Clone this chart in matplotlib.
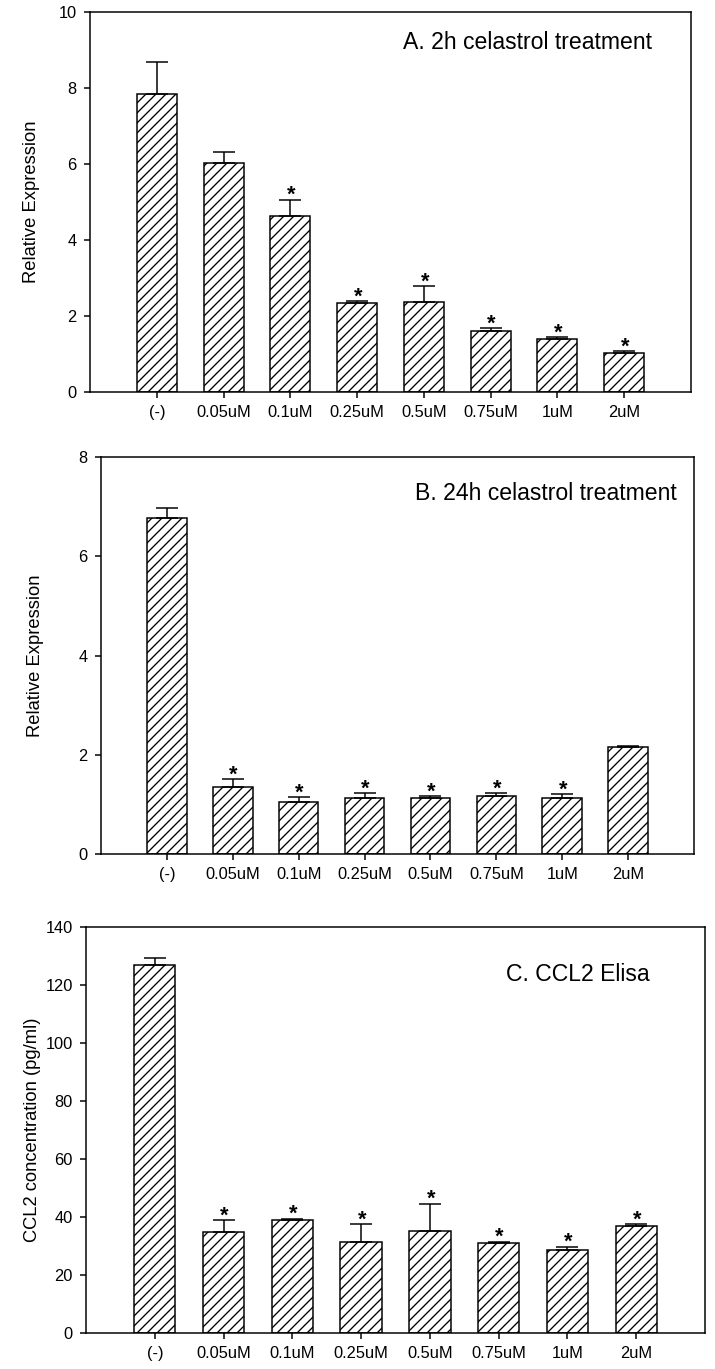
import matplotlib
matplotlib.use('Agg')
import matplotlib.pyplot as plt
import numpy as np

plt.rcParams['font.family'] = ['Liberation Sans', 'DejaVu Sans']
plt.rcParams['hatch.linewidth'] = 0.8
plt.rcParams['hatch.color'] = 'black'

labels = ['(-)', '0.05uM', '0.1uM', '0.25uM', '0.5uM', '0.75uM', '1uM', '2uM']

# A. 2h treatment
a_mean = [7.83, 6.02, 4.63, 2.33, 2.37, 1.60, 1.40, 1.03]
a_err = [0.86, 0.29, 0.43, 0.06, 0.41, 0.08, 0.05, 0.05]
a_star = [0, 0, 1, 1, 1, 1, 1, 1]

# B. 24h treatment
b_mean = [6.77, 1.35, 1.04, 1.13, 1.13, 1.17, 1.12, 2.16]
b_err = [0.20, 0.16, 0.11, 0.09, 0.04, 0.06, 0.08, 0.02]
b_star = [0, 1, 1, 1, 1, 1, 1, 0]

# C. CCL2 Elisa
c_mean = [126.8, 34.8, 38.9, 31.5, 35.1, 30.9, 28.7, 36.9]
c_err = [2.4, 4.1, 0.5, 6.0, 9.5, 0.6, 1.1, 0.7]
c_star = [0, 1, 1, 1, 1, 1, 1, 1]

DPI = 120
W, H = 715, 1369
fig = plt.figure(figsize=(W / DPI, H / DPI), dpi=DPI)


def box(l, r, t, b):
    return [l / W, 1 - b / H, (r - l) / W, (b - t) / H]


def panel(rect, mean, err, star, ymax, ystep, ylabel, title, tpos, labx):
    ax = fig.add_axes(rect)
    x = np.arange(len(labels))
    ax.bar(x, mean, width=0.6, color='white', edgecolor='black',
           linewidth=0.9, hatch='////', zorder=2)
    ax.errorbar(x, mean, yerr=[np.zeros(len(err)), err], fmt='none',
                ecolor='black', elinewidth=0.9, capsize=6.5, capthick=0.9,
                zorder=3)
    for i in range(len(x)):
        if star[i]:
            ax.annotate('*', (x[i], mean[i] + err[i]), xytext=(0.5, 2.5),
                        textcoords='offset points', ha='center', va='center',
                        fontsize=13, fontweight='bold')
    ax.set_xlim(-1, 8)
    ax.set_ylim(0, ymax)
    ax.set_yticks(np.arange(0, ymax + 0.01, ystep))
    ax.set_xticks(x)
    ax.set_xticklabels(labels)
    ax.tick_params(direction='out', length=3.4, width=0.9, labelsize=9.8)
    ax.tick_params(axis='x', pad=4.5)
    ax.tick_params(axis='y', pad=4.5)
    for s in ax.spines.values():
        s.set_linewidth(0.9)
    ax.set_ylabel(ylabel, fontsize=11)
    ax.yaxis.set_label_coords(labx, 0.5)
    ax.text(tpos[0], tpos[1], title, transform=ax.transAxes, ha='right',
            va='center', fontsize=13.8)
    return ax


panel(box(90, 691, 12, 392), a_mean, a_err, a_star, 10, 2,
      'Relative Expression', 'A. 2h celastrol treatment', (0.935, 0.921), -0.083)
panel(box(101, 694, 457, 854), b_mean, b_err, b_star, 8, 2,
      'Relative Expression', 'B. 24h celastrol treatment', (0.971, 0.909), -0.096)
panel(box(86, 705, 927, 1333), c_mean, c_err, c_star, 140, 20,
      'CCL2 concentration (pg/ml)', 'C. CCL2 Elisa', (0.911, 0.884), -0.073)

fig.savefig('out.png', dpi=DPI)
